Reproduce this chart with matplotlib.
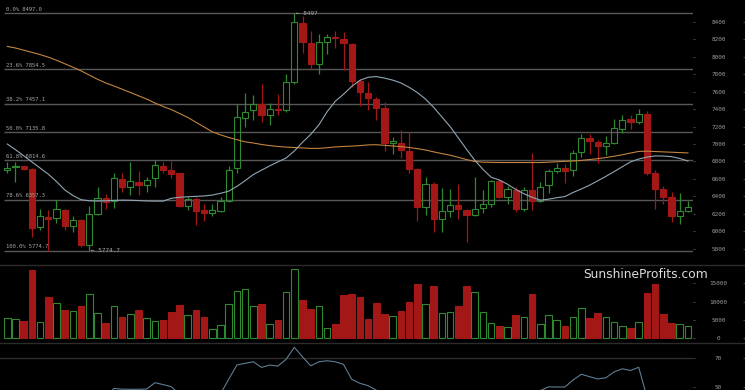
import numpy as np
import matplotlib
matplotlib.use('Agg')
import matplotlib.pyplot as plt
from matplotlib.lines import Line2D

# ---------------- data ----------------
opens = [6708, 6735, 6746, 6712, 6052, 6160, 6148, 6243, 6064, 6129,
         5843, 6197, 6377, 6350, 6594, 6503, 6567, 6529, 6606, 6746,
         6700, 6663, 6292, 6369, 6243, 6205, 6235, 6346, 6720, 7303,
         7386, 7463, 7329, 7400, 7386, 7710, 8384, 8160, 7920, 8171,
         8222, 8206, 8149, 7721, 7588, 7520, 7412, 7006, 7017, 6921,
         6712, 6281, 6537, 6137, 6235, 6304, 6243, 6189, 6270, 6308,
         6580, 6395, 6472, 6255, 6472, 6350, 6529, 6692, 6720, 6700,
         6909, 7074, 7024, 6978, 7012, 7177, 7283, 7253, 7340, 6663,
         6483, 6395, 6175, 6235]
highs = [6795, 6790, 6752, 6720, 6255, 6245, 6360, 6250, 6175, 6140,
         6290, 6505, 6425, 6665, 6665, 6795, 6690, 6625, 6815, 6790,
         6805, 6670, 6395, 6395, 6310, 6312, 6395, 6746, 7455, 7584,
         7557, 7690, 7466, 7577, 7800, 8497, 8470, 8300, 8263, 8263,
         8293, 8280, 8155, 7750, 7710, 7540, 7481, 7081, 7155, 7138,
         6720, 6617, 6567, 6491, 6490, 6540, 6250, 6625, 6472, 6586,
         6600, 6517, 6510, 6503, 6900, 6567, 6710, 6788, 6770, 6937,
         7112, 7112, 7050, 7089, 7290, 7330, 7330, 7406, 7375, 6708,
         6517, 6453, 6441, 6346]
lows = [6663, 6560, 6700, 5940, 6015, 5780, 6095, 6015, 5995, 5815,
        5774.7, 6186, 6255, 6270, 6452, 6415, 6420, 6445, 6505, 6670,
        6612, 6274, 6245, 6072, 6120, 6175, 6224, 6338, 6670, 7200,
        7272, 7252, 7215, 7329, 7367, 7691, 8041, 7843, 7798, 8034,
        8103, 7843, 7653, 7432, 7386, 7280, 6921, 6883, 6835, 6670,
        6121, 6186, 5995, 5995, 6160, 6137, 5874, 6175, 6205, 6281,
        6380, 6312, 6224, 6235, 6243, 6338, 6434, 6663, 6555, 6632,
        6852, 6890, 6784, 6872, 7000, 7130, 7177, 7226, 6643, 6251,
        6312, 6110, 6083, 6224]
closes = [6731, 6748, 6712, 6041, 6175, 6145, 6251, 6064, 6129, 5843,
          6194, 6377, 6338, 6606, 6503, 6575, 6529, 6586, 6757, 6700,
          6655, 6289, 6369, 6235, 6212, 6243, 6346, 6708, 7305, 7367,
          7455, 7329, 7406, 7390, 7710, 8396, 8167, 7920, 8171, 8224,
          8212, 8155, 7721, 7595, 7531, 7412, 7006, 7032, 6937, 6712,
          6281, 6537, 6137, 6228, 6297, 6251, 6189, 6258, 6308, 6575,
          6395, 6480, 6255, 6472, 6350, 6510, 6689, 6720, 6692, 6898,
          7074, 7032, 6978, 7006, 7180, 7280, 7253, 7349, 6670, 6483,
          6395, 6175, 6232, 6274]
volumes = [5460, 5190, 4810, 18660, 4540, 11370, 9560, 7730, 7460, 8830,
           12020, 6830, 4100, 8830, 5900, 6560, 7730, 5460, 4810, 5000,
           7190, 9100, 6280, 7730, 5900, 2460, 3550, 9290, 12920, 13470,
           8830, 9370, 3900, 5000, 12570, 18930, 10460, 8000, 8830, 2730,
           3900, 11830, 12100, 11370, 5370, 9560, 6730, 6100, 7380, 10000,
           14840, 9370, 14200, 6830, 7100, 8830, 14290, 12570, 7100, 4100,
           3440, 3170, 6280, 5740, 12020, 3900, 6370, 5000, 3440, 5820,
           8280, 5640, 6910, 5820, 4540, 3360, 2730, 4540, 12460, 14750,
           6560, 4180, 3900, 3440]
ma_slow = [8118, 8100, 8075, 8050, 8025, 7995, 7960, 7920, 7880, 7838,
           7790, 7742, 7700, 7665, 7628, 7591, 7553, 7515, 7470, 7430,
           7395, 7350, 7305, 7250, 7195, 7140, 7105, 7075, 7050, 7025,
           7012, 6995, 6982, 6972, 6965, 6960, 6955, 6950, 6950, 6958,
           6967, 6972, 6976, 6982, 6990, 6992, 6985, 6978, 6970, 6960,
           6947, 6932, 6910, 6890, 6872, 6848, 6822, 6800, 6792, 6790,
           6788, 6788, 6788, 6788, 6788, 6788, 6792, 6797, 6802, 6806,
           6812, 6822, 6832, 6845, 6860, 6877, 6897, 6915, 6918, 6914,
           6910, 6906, 6902, 6898]
ma_fast = [7000, 6935, 6865, 6795, 6725, 6655, 6570, 6475, 6410, 6362,
           6350, 6347, 6350, 6354, 6357, 6356, 6352, 6348, 6346, 6346,
           6378, 6390, 6396, 6400, 6405, 6415, 6435, 6460, 6515, 6580,
           6650, 6700, 6750, 6795, 6840, 6920, 7020, 7110, 7220, 7370,
           7490, 7570, 7660, 7730, 7765, 7773, 7755, 7732, 7700, 7650,
           7590, 7515, 7420, 7310, 7200, 7070, 6940, 6815, 6710, 6620,
           6588, 6540, 6480, 6430, 6390, 6357, 6368, 6385, 6398, 6445,
           6485, 6528, 6578, 6630, 6684, 6740, 6795, 6828, 6850, 6864,
           6862, 6855, 6835, 6805]
rsi = [45, 46, 44, 33, 37, 36, 39, 35, 37, 31,
       40, 44, 43, 49, 48.5, 48.4, 48.4, 48.6, 53, 51.7,
       50.2, 45, 44, 42, 41, 43, 45.2, 55.4, 65.4, 66.5,
       67.6, 63.7, 65.3, 64.6, 69.3, 77.7, 71.1, 64.8, 67.6, 68.3,
       67.6, 65.8, 55.4, 52.6, 50.9, 47.8, 40, 41, 40, 37,
       30, 35, 31, 33, 35, 34, 33, 35, 37, 44,
       41, 44, 41, 45, 42, 47.5, 50.1, 50, 50, 54.9,
       58.9, 57.2, 55.6, 56.5, 60.5, 62.7, 61.5, 63.8, 43, 38,
       36, 33, 35, 37]

fib_levels = [8497.0, 7854.5, 7457.1, 7135.8, 6814.6, 6357.3, 5774.7]
fib_labels = ["0.0% 8497.0", "23.6% 7854.5", "38.2% 7457.1", "50.0% 7135.8",
              "61.8% 6814.6", "78.6% 6357.3", "100.0% 5774.7"]
price_ticks = [5800, 6000, 6200, 6400, 6600, 6800, 7000, 7200, 7400,
               7600, 7800, 8000, 8200, 8400]
volume_ticks = [0, 5000, 10000, 15000]
rsi_ticks = [50, 70]
high_label = "← 8497"
low_label = "← 5774.7"

# ---------------- style ----------------
W, H = 745, 390
DPI = 100
BG = 'black'
RED = '#a31717'
GREEN = '#2f8a2f'
GRID = '#585858'
SEP = '#2c2c2c'
TXT = '#a8a8a8'
TICK_TXT = '#9a9a9a'
MONO = 'DejaVu Sans Mono'

fig = plt.figure(figsize=(W / DPI, H / DPI), dpi=DPI, facecolor=BG)

def px_axes(top, bottom, left=0, right=693):
    return fig.add_axes([left / W, 1 - bottom / H, (right - left) / W, (bottom - top) / H])

ax_p = px_axes(0, 265)
ax_v = px_axes(265, 343)
ax_r = px_axes(343, 430)

n = len(opens)
x = np.arange(n)
o = np.array(opens, float)
h = np.array(highs, float)
l = np.array(lows, float)
c = np.array(closes, float)
up = c >= o
top_oc = np.maximum(o, c)
bot_oc = np.minimum(o, c)
cols = np.where(up, GREEN, RED)

xlim = (-0.89, 83.62)
for ax in (ax_p, ax_v, ax_r):
    ax.set_facecolor(BG)
    ax.set_xlim(*xlim)
    for s in ax.spines.values():
        s.set_visible(False)
    ax.tick_params(axis='x', bottom=False, labelbottom=False)
    ax.yaxis.tick_right()
    ax.tick_params(axis='y', left=False, labelleft=False, right=True, labelright=True,
                   length=1.7, width=0.6, color='#555555', labelcolor=TICK_TXT,
                   labelsize=4.3, pad=16.8)

# ---- price panel ----
ax_p.set_ylim(5614, 8650)
ax_p.hlines(fib_levels, -0.45, xlim[1], colors=GRID, linewidth=1.0, zorder=1)
for lev, lab in zip(fib_levels, fib_labels):
    ax_p.annotate(lab, xy=(0, lev), xycoords=ax_p.get_yaxis_transform(),
                  xytext=(4.3, 1.2), textcoords='offset points', ha='left', va='bottom',
                  fontsize=4.0, family=MONO, color=TXT, zorder=6)

ax_p.vlines(x, top_oc, h, colors=cols, linewidth=0.9, zorder=3)
ax_p.vlines(x, l, bot_oc, colors=cols, linewidth=0.9, zorder=3)
ax_p.bar(x, top_oc - bot_oc, bottom=bot_oc, width=0.74,
         color=[RED if u is False or not u else 'none' for u in up],
         edgecolor=cols, linewidth=0.8, zorder=4)

ax_p.plot(x, ma_slow, color='#c3843f', linewidth=0.8, zorder=5)
ax_p.plot(x, ma_fast, color='#91a6b5', linewidth=0.8, zorder=5)

i_hi = int(np.argmax(h))
i_lo = int(np.argmin(l))
ax_p.annotate(high_label, xy=(x[i_hi], h[i_hi]), xytext=(1.2, 0), textcoords='offset points',
              ha='left', va='center', fontsize=4.3, family=MONO, color=TXT, zorder=6)
ax_p.annotate(low_label, xy=(x[i_lo], l[i_lo]), xytext=(1.2, 0), textcoords='offset points',
              ha='left', va='center', fontsize=4.3, family=MONO, color=TXT, zorder=6)

ax_p.set_yticks(price_ticks)
ax_p.set_yticklabels([str(t) for t in price_ticks], family=MONO)

# ---- volume panel ----
ax_v.set_ylim(-1280, 20000)
ax_v.bar(x, volumes, width=0.8, color=[RED if not u else 'none' for u in up],
         edgecolor=cols, linewidth=0.8, zorder=3)
ax_v.set_yticks(volume_ticks)
ax_v.set_yticklabels([str(t) for t in volume_ticks], family=MONO)
ax_v.text(0.932, 0.88, 'SunshineProfits.com', transform=ax_v.transAxes, ha='center',
          va='center', fontsize=8.8, family='DejaVu Sans', color='#dcdcdc', zorder=6)

# ---- rsi panel ----
ax_r.set_ylim(20, 80.7)
ax_r.axhline(70, color=SEP, linewidth=1.0, zorder=1)
ax_r.plot(x, rsi, color='#5f7d92', linewidth=0.8, zorder=3)
ax_r.set_yticks(rsi_ticks)
ax_r.set_yticklabels([str(t) for t in rsi_ticks], family=MONO)

for ax in (ax_p, ax_v, ax_r):
    for lab in ax.get_yticklabels():
        lab.set_ha('center')
    sec = ax.secondary_yaxis(743 / 693)
    sec.set_yticks(ax.get_yticks())
    sec.tick_params(axis='y', length=1.7, width=0.6, color='#555555', labelright=False,
                    labelleft=False)
    for s in sec.spines.values():
        s.set_visible(False)

# panel separators
for yy in (265, 343):
    fig.add_artist(Line2D([0, 1], [1 - yy / H, 1 - yy / H], transform=fig.transFigure,
                          color=SEP, linewidth=1.0))

fig.savefig('out.png', dpi=DPI, facecolor=BG)
